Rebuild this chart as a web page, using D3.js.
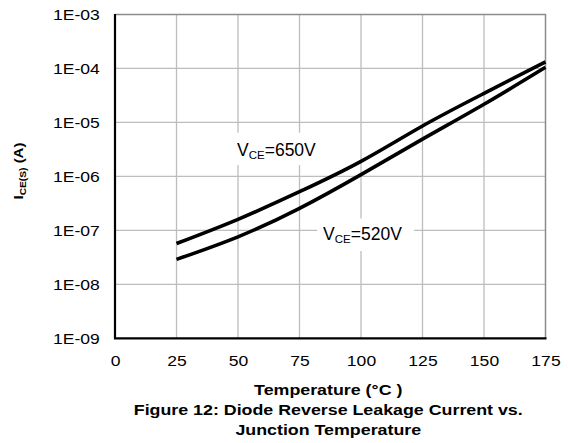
<!DOCTYPE html>
<html>
<head>
<meta charset="utf-8">
<script src="https://cdn.jsdelivr.net/npm/d3@7"></script>
<style>
  body { margin: 0; background: #fff; }
  svg { display: block; }
  text { font-family: Arial, "Liberation Sans", sans-serif; fill: #000; }
</style>
</head>
<body>
<svg id="chart" width="568" height="443"></svg>
<script>
// ---- data ----
const xTickValues = [0, 25, 50, 75, 100, 125, 150, 175];
const yTickValues = [1e-9, 1e-8, 1e-7, 1e-6, 1e-5, 1e-4, 1e-3];
const yTickLabels = ["1E-09", "1E-08", "1E-07", "1E-06", "1E-05", "1E-04", "1E-03"];
const temperatures = [25, 50, 75, 100, 125, 150, 175];
const leak650 = [5.7e-8, 1.6e-7, 5.2e-7, 1.9e-6, 8.6e-6, 3.45e-5, 1.33e-4];
const leak520 = [2.9e-8, 7.6e-8, 2.56e-7, 1.08e-6, 4.9e-6, 2.17e-5, 1.05e-4];
const seriesNames = ["650V", "520V"];
const xTitle = "Temperature (°C )";
const captionLines = ["Figure 12: Diode Reverse Leakage Current vs.", "Junction Temperature"];

// ---- layout ----
const svg = d3.select("#chart");
const L = 115, R = 545.5, T = 14.5, B = 338.3;
const SX = 1.17; // horizontal stretch of the reference lettering

const x = d3.scaleLinear().domain([0, 175]).range([L, R]);
const y = d3.scaleLog().domain([1e-9, 1e-3]).range([B, T]);

// grid
const grid = svg.append("g");
grid.selectAll("line.v").data(xTickValues.slice(1, -1)).join("line")
  .attr("x1", d => x(d)).attr("x2", d => x(d)).attr("y1", T).attr("y2", B)
  .attr("stroke", "#bdbdbd").attr("stroke-width", 1.3);
grid.selectAll("line.h").data(yTickValues.slice(1, -1)).join("line")
  .attr("x1", L).attr("x2", R).attr("y1", d => y(d)).attr("y2", d => y(d))
  .attr("stroke", "#bdbdbd").attr("stroke-width", 1.3);

// top and right border
svg.append("path")
  .attr("d", `M${L},${T}H${R}V${B}`)
  .attr("fill", "none").attr("stroke", "#8c8c8c").attr("stroke-width", 1.5);

// curves
const line = d3.line().x(d => x(d[0])).y(d => y(d[1])).curve(d3.curveNatural);
const series = [leak650, leak520].map(vals => temperatures.map((t, i) => [t, vals[i]]));
svg.append("g").selectAll("path").data(series).join("path")
  .attr("d", line).attr("fill", "none").attr("stroke", "#000")
  .attr("stroke-width", 3.6).attr("stroke-linecap", "butt");

// annotations with white boxes
function label(txt, tx, ty, padL, padR, padT, padB) {
  const g = svg.append("g");
  const rect = g.append("rect").attr("fill", "#fff");
  const t = g.append("text").attr("x", tx).attr("y", ty).attr("font-size", 17.5);
  t.append("tspan").text("V");
  t.append("tspan").attr("font-size", 11.5).attr("dy", 3.5).text("CE");
  t.append("tspan").attr("dy", -3.5).text("=" + txt);
  const bb = t.node().getBBox();
  rect.attr("x", bb.x - padL).attr("y", bb.y - padT)
    .attr("width", bb.width + padL + padR).attr("height", bb.height + padT + padB);
}
label(seriesNames[0], x(49.6), y(Math.pow(10, -5.615)), 7, 7, 7, 4);
label(seriesNames[1], x(84.6), y(Math.pow(10, -7.17)), 6, 12, 5, 6);

// left & bottom axes
svg.append("path")
  .attr("d", `M${L},${T - 0.5}V${B}H${R + 1}`)
  .attr("fill", "none").attr("stroke", "#000").attr("stroke-width", 2.2);

const xAxis = svg.append("g").attr("transform", `translate(0,${B})`)
  .call(d3.axisBottom(x).tickValues(xTickValues).tickSize(0).tickPadding(17).tickFormat(d3.format("d")));
xAxis.select(".domain").remove();
xAxis.selectAll("text").attr("font-size", 15).attr("font-family", "Arial, 'Liberation Sans', sans-serif")
  .attr("transform", `scale(${SX},1)`);

const yAxis = svg.append("g").attr("transform", `translate(${L},0)`)
  .call(d3.axisLeft(y).tickValues(yTickValues).tickSize(0).tickPadding(13)
    .tickFormat((d, i) => yTickLabels[i]));
yAxis.select(".domain").remove();
yAxis.selectAll("text").attr("font-size", 15).attr("font-family", "Arial, 'Liberation Sans', sans-serif")
  .attr("transform", `scale(${SX},1)`);

// x title and caption
const cx = (L + R) / 2 - 2;
function boldLine(txt, yy) {
  svg.append("text").attr("transform", `translate(${cx},${yy}) scale(1.15,1)`)
    .attr("text-anchor", "middle").attr("font-weight", "bold").attr("font-size", 15.5).text(txt);
}
boldLine(xTitle, 395);
captionLines.forEach((t, i) => boldLine(t, 415 + 20 * i));

// y title
const yt = svg.append("text").attr("transform", `translate(22.5,171) rotate(-90) scale(1.2,1)`)
  .attr("text-anchor", "middle").attr("font-weight", "bold").attr("font-size", 12.5);
yt.append("tspan").text("I");
yt.append("tspan").attr("font-size", 8.5).attr("dy", 3).text("CE(S)");
yt.append("tspan").attr("dy", -3).text(" (A)");
</script>
</body>
</html>
